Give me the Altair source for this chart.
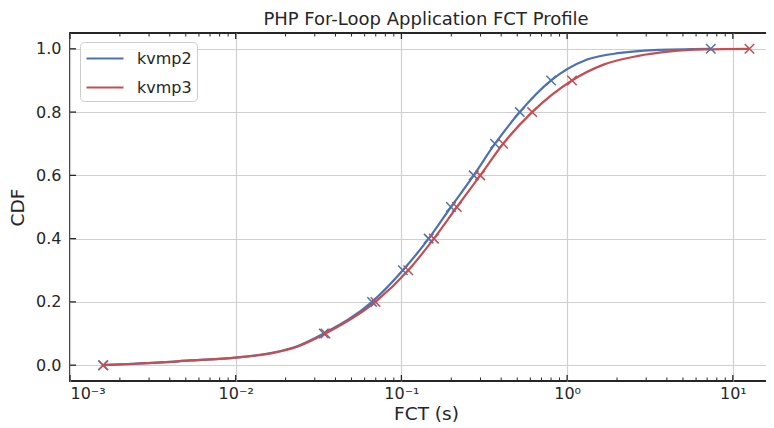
import altair as alt
import pandas as pd

series = ["kvmp2", "kvmp3"]
colors = ["#4C72B0", "#C44E52"]

# smooth CDF curves
curve_fct_kvmp2 = [0.00158, 0.00211, 0.00336, 0.00533, 0.01, 0.0169, 0.0235, 0.034, 0.0665,
                   0.102, 0.146, 0.199, 0.273, 0.367, 0.518, 0.80, 1.32, 2.09, 3.31, 7.36]
curve_cdf_kvmp2 = [0.0, 0.003, 0.008, 0.015, 0.024, 0.040, 0.060, 0.10, 0.2,
                   0.3, 0.4, 0.5, 0.6, 0.7, 0.8, 0.9, 0.966, 0.987, 0.996, 1.0]
curve_fct_kvmp3 = [0.00159, 0.00211, 0.00336, 0.00533, 0.01, 0.0169, 0.0235, 0.0348, 0.0697,
                   0.110, 0.157, 0.216, 0.299, 0.411, 0.615, 1.07, 1.66, 2.64, 4.2, 6.67, 12.6]
curve_cdf_kvmp3 = [0.0, 0.003, 0.008, 0.015, 0.024, 0.039, 0.058, 0.1, 0.2,
                   0.3, 0.4, 0.5, 0.6, 0.7, 0.8, 0.9, 0.95, 0.977, 0.992, 0.998, 1.0]

# decile markers
decile_cdf = [0.0, 0.1, 0.2, 0.3, 0.4, 0.5, 0.6, 0.7, 0.8, 0.9, 1.0]
decile_fct_kvmp2 = [0.00158, 0.034, 0.0665, 0.102, 0.146, 0.199, 0.273, 0.367, 0.518, 0.80, 7.36]
decile_fct_kvmp3 = [0.00159, 0.0348, 0.0697, 0.110, 0.157, 0.216, 0.299, 0.411, 0.615, 1.07, 12.6]

# axis ticks
x_major = [0.001, 0.01, 0.1, 1.0, 10.0]
x_labels = ["10⁻³", "10⁻²", "10⁻¹", "10⁰", "10¹"]
x_minor = [m * d for d in [0.001, 0.01, 0.1, 1.0, 10.0] for m in range(2, 10) if m * d < 19.8]
y_major = [0.0, 0.2, 0.4, 0.6, 0.8, 1.0]

W, H = 712, 348
FONT = "DejaVu Sans"
TXT = "#262626"

curves = pd.concat([
    pd.DataFrame({"fct": curve_fct_kvmp2, "cdf": curve_cdf_kvmp2, "series": "kvmp2", "o": range(len(curve_fct_kvmp2))}),
    pd.DataFrame({"fct": curve_fct_kvmp3, "cdf": curve_cdf_kvmp3, "series": "kvmp3", "o": range(len(curve_fct_kvmp3))}),
])
markers = pd.concat([
    pd.DataFrame({"fct": decile_fct_kvmp2, "cdf": decile_cdf, "series": "kvmp2"}),
    pd.DataFrame({"fct": decile_fct_kvmp3, "cdf": decile_cdf, "series": "kvmp3"}),
])

xscale = alt.Scale(type="log", domain=[0.001, 19.8], nice=False)
yscale = alt.Scale(domain=[-0.05, 1.05], nice=False, zero=False)
cscale = alt.Scale(domain=series, range=colors)

label_expr = ("datum.value < 0.005 ? '" + x_labels[0] + "' : datum.value < 0.05 ? '" + x_labels[1] +
              "' : datum.value < 0.5 ? '" + x_labels[2] + "' : datum.value < 5 ? '" + x_labels[3] +
              "' : '" + x_labels[4] + "'")

x_axis = alt.Axis(values=x_major, labelExpr=label_expr, ticks=False, tickSize=0, domain=False,
                  grid=True, gridColor="#d0d0d0", gridWidth=1.2, labelFontSize=16,
                  labelPadding=4, titlePadding=3, titleFontSize=18.5)
y_axis = alt.Axis(values=y_major, format=".1f", ticks=False, tickSize=0, domain=False,
                  grid=True, gridColor="#d0d0d0", gridWidth=1.2, labelFontSize=16,
                  labelPadding=9, titlePadding=8, titleFontSize=18.5)

def X(field):
    return alt.X(field, scale=xscale, title="FCT (s)", axis=x_axis)

def Y(field):
    return alt.Y(field, scale=yscale, title="CDF", axis=y_axis)

lines = alt.Chart(curves).mark_line(strokeWidth=2.2, interpolate="monotone").encode(
    x=X("fct:Q"), y=Y("cdf:Q"),
    color=alt.Color("series:N", scale=cscale, legend=alt.Legend(title=None)),
    order="o:Q",
)

points = alt.Chart(markers).mark_point(
    shape="M-1,-1L1,1M-1,1L1,-1", size=90, filled=False, strokeWidth=1.5, opacity=1
).encode(
    x=X("fct:Q"), y=Y("cdf:Q"),
    color=alt.Color("series:N", scale=cscale, legend=None),
)

xt = pd.DataFrame({"v": x_major + x_minor, "len": [6.0] * len(x_major) + [3.5] * len(x_minor)})
yt = pd.DataFrame({"v": y_major})

tb_major = alt.Chart(xt[xt.len > 5]).mark_rule(color=TXT, strokeWidth=1.3).encode(
    x=X("v:Q"), y=alt.value(H), y2=alt.value(H - 6))
tb_minor = alt.Chart(xt[xt.len < 5]).mark_rule(color=TXT, strokeWidth=1.0).encode(
    x=X("v:Q"), y=alt.value(H), y2=alt.value(H - 3.5))
tt_major = alt.Chart(xt[xt.len > 5]).mark_rule(color=TXT, strokeWidth=1.3).encode(
    x=X("v:Q"), y=alt.value(0), y2=alt.value(6))
tt_minor = alt.Chart(xt[xt.len < 5]).mark_rule(color=TXT, strokeWidth=1.0).encode(
    x=X("v:Q"), y=alt.value(0), y2=alt.value(3.5))
tl = alt.Chart(yt).mark_rule(color=TXT, strokeWidth=1.3).encode(
    y=Y("v:Q"), x=alt.value(0), x2=alt.value(6))
tr = alt.Chart(yt).mark_rule(color=TXT, strokeWidth=1.3).encode(
    y=Y("v:Q"), x=alt.value(W - 6), x2=alt.value(W))

chart = alt.layer(lines, points, tb_major, tb_minor, tt_major, tt_minor, tl, tr).properties(
    width=W, height=H,
    title=alt.TitleParams("PHP For-Loop Application FCT Profile", fontSize=18, font=FONT,
                          fontWeight="normal", color=TXT, offset=3),
    autosize=alt.AutoSizeParams(type="none"),
    padding={"left": 62, "top": 25, "right": -16, "bottom": 47},
).configure_view(
    stroke=TXT, strokeWidth=1.8
).configure_axis(
    labelFont=FONT, titleFont=FONT, labelColor=TXT, titleColor=TXT, titleFontWeight="normal"
).configure_legend(
    orient="none", legendX=10, legendY=9,
    symbolType="M-1.85,0H1.85", symbolSize=400, symbolStrokeWidth=2.2,
    symbolOffset=8.5, labelOffset=20.5,
    labelFont=FONT, labelFontSize=16, labelColor=TXT, rowPadding=9,
    padding=5, fillColor="rgba(255,255,255,0.8)", strokeColor="#cccccc", cornerRadius=4,
)

chart.save("out.html", embed_options={"renderer": "svg", "actions": False})
